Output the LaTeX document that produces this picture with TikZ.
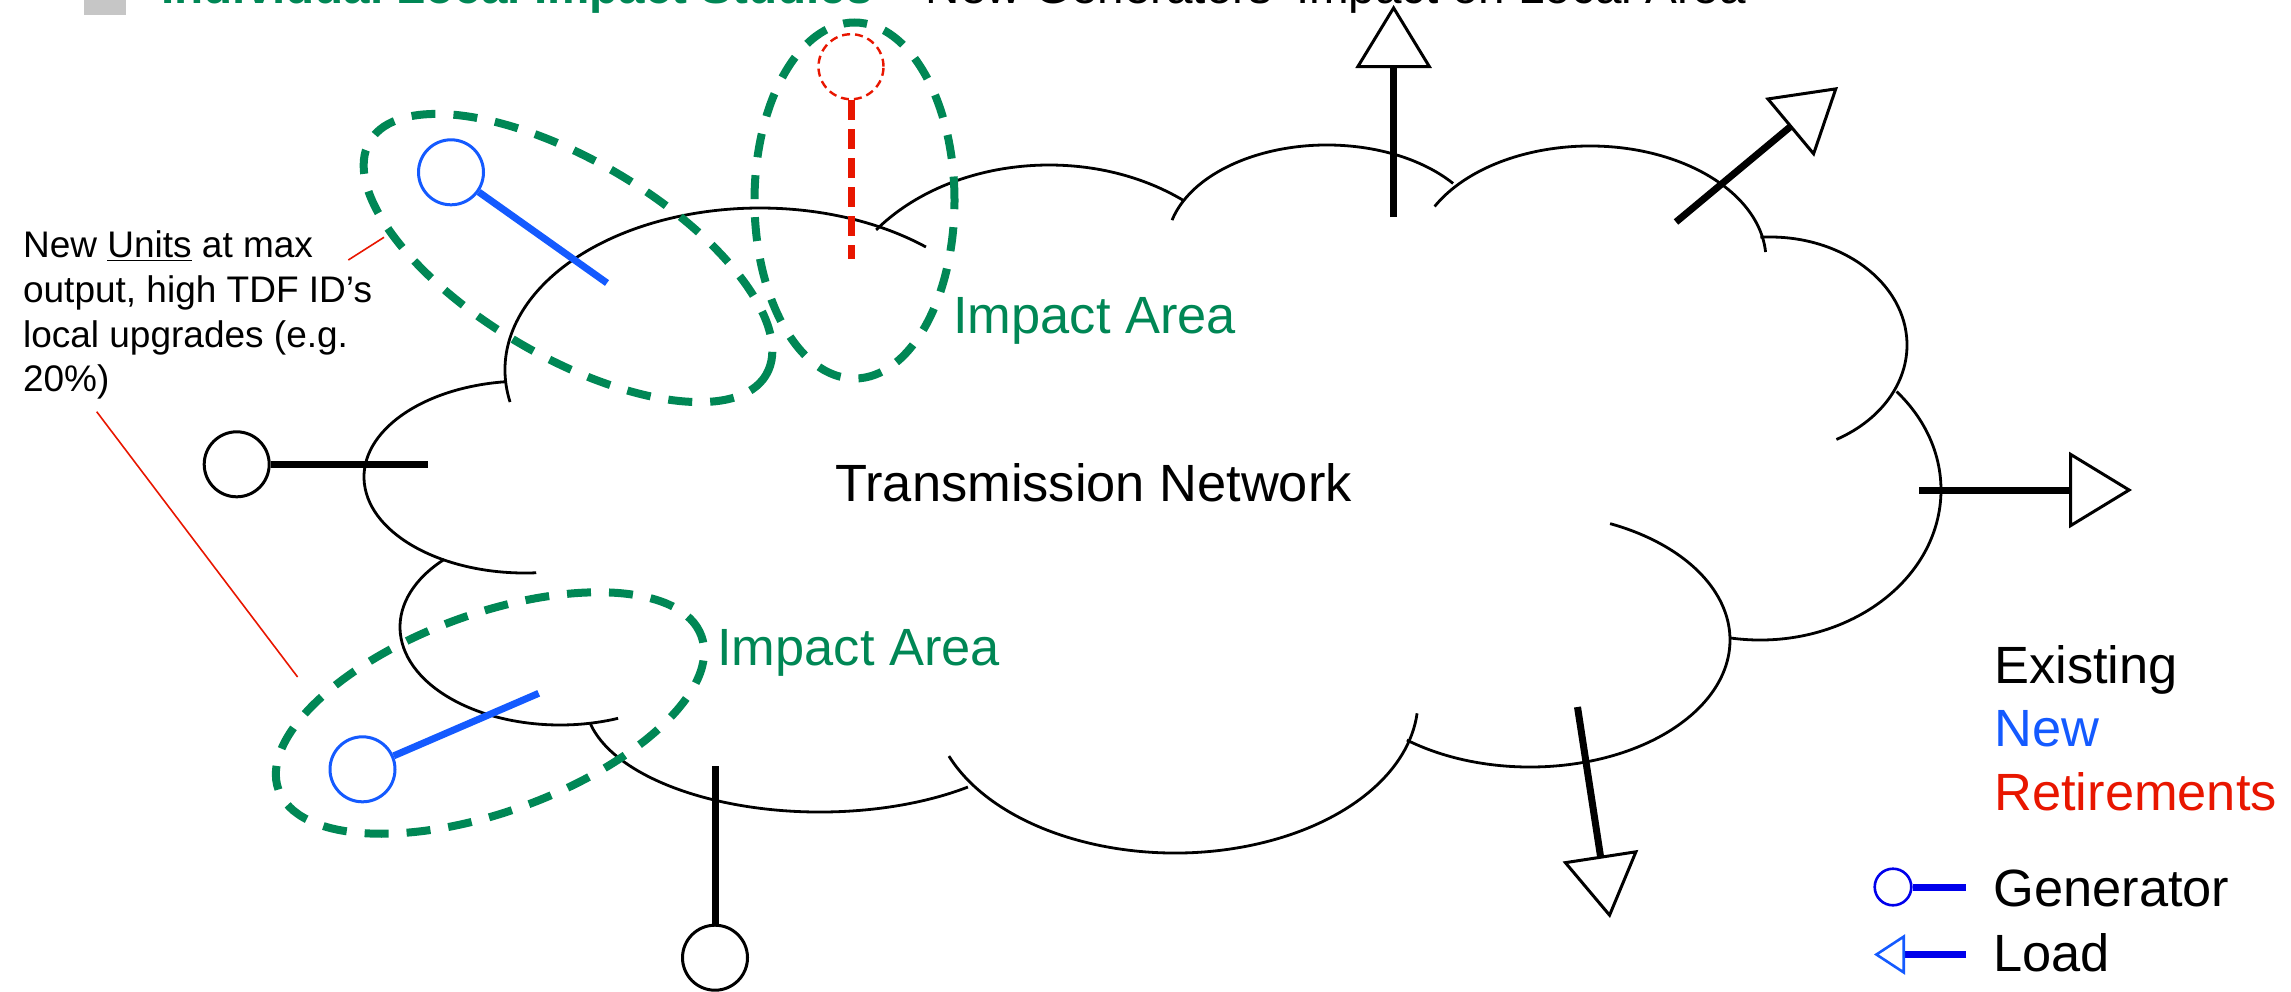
\documentclass[tikz,border=0pt]{standalone}
\usepackage{fontspec}
\setmainfont{Liberation Sans}
\usepackage{tikz}
\usetikzlibrary{arrows.meta}
\definecolor{impactgreen}{RGB}{0,135,85}
\definecolor{newblue}{RGB}{20,90,255}
\definecolor{legendblue}{RGB}{0,0,235}
\definecolor{retired}{RGB}{232,22,0}
\tikzset{
  cloudarc/.style={line width=1.4pt},
  impact/.style={draw=impactgreen,line width=4pt,dash pattern=on 12pt off 9pt},
  link/.style={line width=3.5pt},
  gen/.style={circle,draw,line width=1.5pt,minimum size=32.5pt,inner sep=0pt},
  load/.style={line width=3.5pt,-{Triangle[open,length=31.5pt,width=38pt,line width=1.5pt]}},
  big/.style={anchor=base west,inner sep=0pt,font=\fontsize{26.2}{31}\selectfont},
}
\newcommand{\lobe}[6]{\draw[cloudarc] (#1,#2) ++(#5:#3 and #4) arc[start angle=#5,end angle=#6,x radius=#3,y radius=#4];}

\begin{document}
\begin{tikzpicture}[x={(0.5pt,0pt)},y={(0pt,-0.5pt)}]
      \useasboundingbox (0,0) rectangle (2291,991);
      \fill[gray!45] (84,-30) rectangle (126,15);
      \node[anchor=base west,inner sep=0pt,font=\fontsize{23.8}{28}\selectfont] (title) at (161,3.5)
        {\textcolor{impactgreen}{\bfseries Individual Local Impact Studies} – New Generators’ Impact on Local Area};
      \lobe{760}{370}{255}{162}{168.6}{310.6}
      \lobe{525}{477}{161}{96}{263}{86}
      \lobe{560}{627}{160}{98}{223.6}{68.7}
      \lobe{820}{700}{235}{112}{167.6}{51}
      \lobe{1175}{700}{243}{153}{158.5}{5}
      \lobe{1530}{640}{200}{127}{128}{-66.4}
      \lobe{1760}{490}{181}{150}{99.6}{-41}
      \lobe{1770}{345}{137}{108}{-94}{61}
      \lobe{1590}{260}{176}{114}{-152}{-4}
      \lobe{1327}{245}{160}{100}{-165.6}{-38}
      \lobe{1049}{335}{220}{170}{-141.8}{-52}
      \node[big] (net) at (835,501) {Transmission Network};
      \draw[impact,rotate around={-30.5:(568,258)}] (568,258) ellipse [x radius=115pt,y radius=49pt];
      \draw[impact] (854.5,200.5) ellipse [x radius=50pt,y radius=89pt];
      \draw[impact,rotate around={20:(490,713)}] (490,713) ellipse [x radius=112.5pt,y radius=49.5pt];
      \node[big,text=impactgreen] (areaTop) at (953,333) {Impact Area};
      \node[big,text=impactgreen] (areaLow) at (717,665) {Impact Area};
      \node[gen] (oldW) at (236.7,464.3) {};
      \coordinate (oldWend) at (428,464.3);
      \draw[link] (oldW) -- (oldWend);
      \node[gen] (oldS) at (715,957.7) {};
      \coordinate (oldSend) at (715,765.7);
      \draw[link] (oldS) -- (oldSend);
      \node[gen,draw=newblue] (newN) at (451,172.3) {};
      \coordinate (newNend) at (607,283);
      \draw[link,newblue] (newN) -- (newNend);
      \node[gen,draw=newblue] (newS) at (362.5,769.3) {};
      \coordinate (newSend) at (538.7,693.3);
      \draw[link,newblue] (newS) -- (newSend);
      \node[gen,draw=retired,line width=1.2pt,dash pattern=on 4pt off 2.5pt] (retN) at (851,66.7) {};
      \coordinate (retNend) at (851,259);
      \draw[link,retired,dash pattern=on 10pt off 4.5pt] (retN) -- (retNend);
      \coordinate (loadN) at (1393.6,217);
      \coordinate (loadNtip) at (1393.6,5);
      \draw[load] (loadN) -- (loadNtip);
      \coordinate (loadNE) at (1676,222);
      \coordinate (loadNEtip) at (1838,87);
      \draw[load] (loadNE) -- (loadNEtip);
      \coordinate (loadE) at (1919,490);
      \coordinate (loadEtip) at (2132,490);
      \draw[load] (loadE) -- (loadEtip);
      \coordinate (loadSE) at (1577.5,707);
      \coordinate (loadSEtip) at (1610,918);
      \draw[load] (loadSE) -- (loadSEtip);
      \node[anchor=base west,align=left,inner sep=0pt,font=\fontsize{18.5}{22.35}\selectfont] (note) at (22.7,391.7)
        {New \underline{Units} at max\\output, high TDF ID’s\\local upgrades (e.g.\\20\%)};
      \coordinate (noteA) at (348.3,260);
      \coordinate (noteAend) at (384,237.3);
      \coordinate (noteB) at (96.7,411.7);
      \coordinate (noteBend) at (297.6,677);
      \draw[retired,line width=0.8pt] (noteA) -- (noteAend);
      \draw[retired,line width=0.8pt] (noteB) -- (noteBend);
      \node[big] (keyOld) at (1994,683) {Existing};
      \node[big,text=newblue] (keyNew) at (1994,746) {New};
      \node[big,text=retired] (keyRet) at (1994,810) {Retirements};
      \node[gen,draw=legendblue,minimum size=18.3pt,line width=1.3pt] (keyGen) at (1893,887) {};
      \coordinate (keyGenend) at (1966,887);
      \draw[link,legendblue] (keyGen) -- (keyGenend);
      \node[big] (keyGenText) at (1993,906) {Generator};
      \coordinate (keyLoad) at (1966,954.5);
      \coordinate (keyLoadtip) at (1874,954.5);
      \draw[link,legendblue,-{Triangle[open,length=15.5pt,width=20pt,line width=1.3pt,color=newblue]}] (keyLoad) -- (keyLoadtip);
      \node[big] (keyLoadText) at (1993,971) {Load};
    \end{tikzpicture}
\end{document}
